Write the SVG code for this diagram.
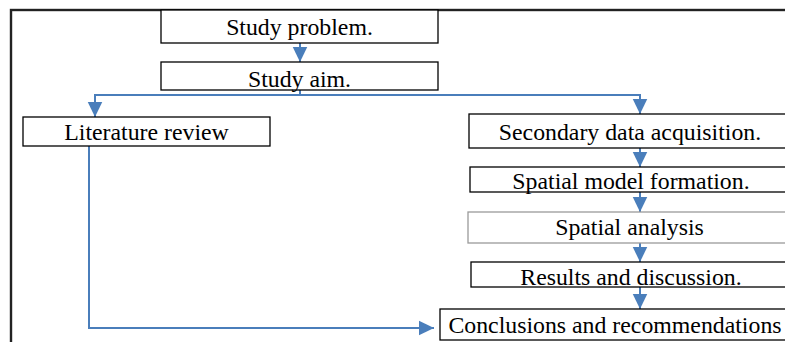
<svg xmlns="http://www.w3.org/2000/svg" width="785" height="342" viewBox="0 0 785 342">
<style>
.box{fill:#fff;stroke:#000;stroke-width:1.3}
.lt{stroke:#9a9a9a}
.t{font-family:"Liberation Serif","Times New Roman",serif;font-size:23.8px;fill:#000;text-anchor:middle}
.c{fill:none;stroke:#4a7ebb;stroke-width:2}
</style>
<defs>
<marker id="ah" markerUnits="userSpaceOnUse" markerWidth="17" markerHeight="17" viewBox="0 0 17 17" refX="15.5" refY="8.5" orient="auto">
<path d="M0,1 L15.5,8.5 L0,16 Z" fill="#4a7ebb"/>
</marker>
</defs>
<rect id="frame" x="11" y="10" width="790" height="350" fill="none" stroke="#222" stroke-width="2.4"/>
<g id="connectors">
<line class="c" x1="300" y1="43" x2="300" y2="62" marker-end="url(#ah)"/>
<polyline class="c" points="300,90 300,95 95,95 95,117" marker-end="url(#ah)"/>
<polyline class="c" points="300,95 640,95 640,114" marker-end="url(#ah)"/>
<line class="c" x1="640" y1="148" x2="640" y2="167" marker-end="url(#ah)"/>
<line class="c" x1="640" y1="192" x2="640" y2="212" marker-end="url(#ah)"/>
<line class="c" x1="640" y1="243" x2="640" y2="262" marker-end="url(#ah)"/>
<line class="c" x1="640" y1="287" x2="640" y2="309" marker-end="url(#ah)"/>
<polyline class="c" points="89,146 89,328 434,328" marker-end="url(#ah)"/>
</g>
<g id="n1"><rect class="box" x="161" y="10" width="277" height="33"/><text class="t" x="299.5" y="34.5">Study problem.</text></g>
<g id="n2"><rect class="box" x="161" y="62" width="277" height="28"/><text class="t" x="299.5" y="87">Study aim.</text></g>
<g id="n3"><rect class="box" x="23" y="117" width="247" height="29"/><text class="t" x="146.5" y="140">Literature review</text></g>
<g id="n4"><rect class="box" x="469" y="114" width="322" height="34"/><text class="t" x="630" y="140">Secondary data acquisition.</text></g>
<g id="n5"><rect class="box" x="470" y="167" width="321" height="25"/><text class="t" x="631" y="188.5">Spatial model formation.</text></g>
<g id="n6"><rect class="box lt" x="468" y="212" width="323" height="31"/><text class="t" x="629.5" y="235">Spatial analysis</text></g>
<g id="n7"><rect class="box" x="471" y="262" width="320" height="25"/><text class="t" x="631" y="285">Results and discussion.</text></g>
<g id="n8"><rect class="box" x="440" y="309" width="351" height="31"/><text class="t" x="615" y="333">Conclusions and recommendations</text></g>
</svg>
